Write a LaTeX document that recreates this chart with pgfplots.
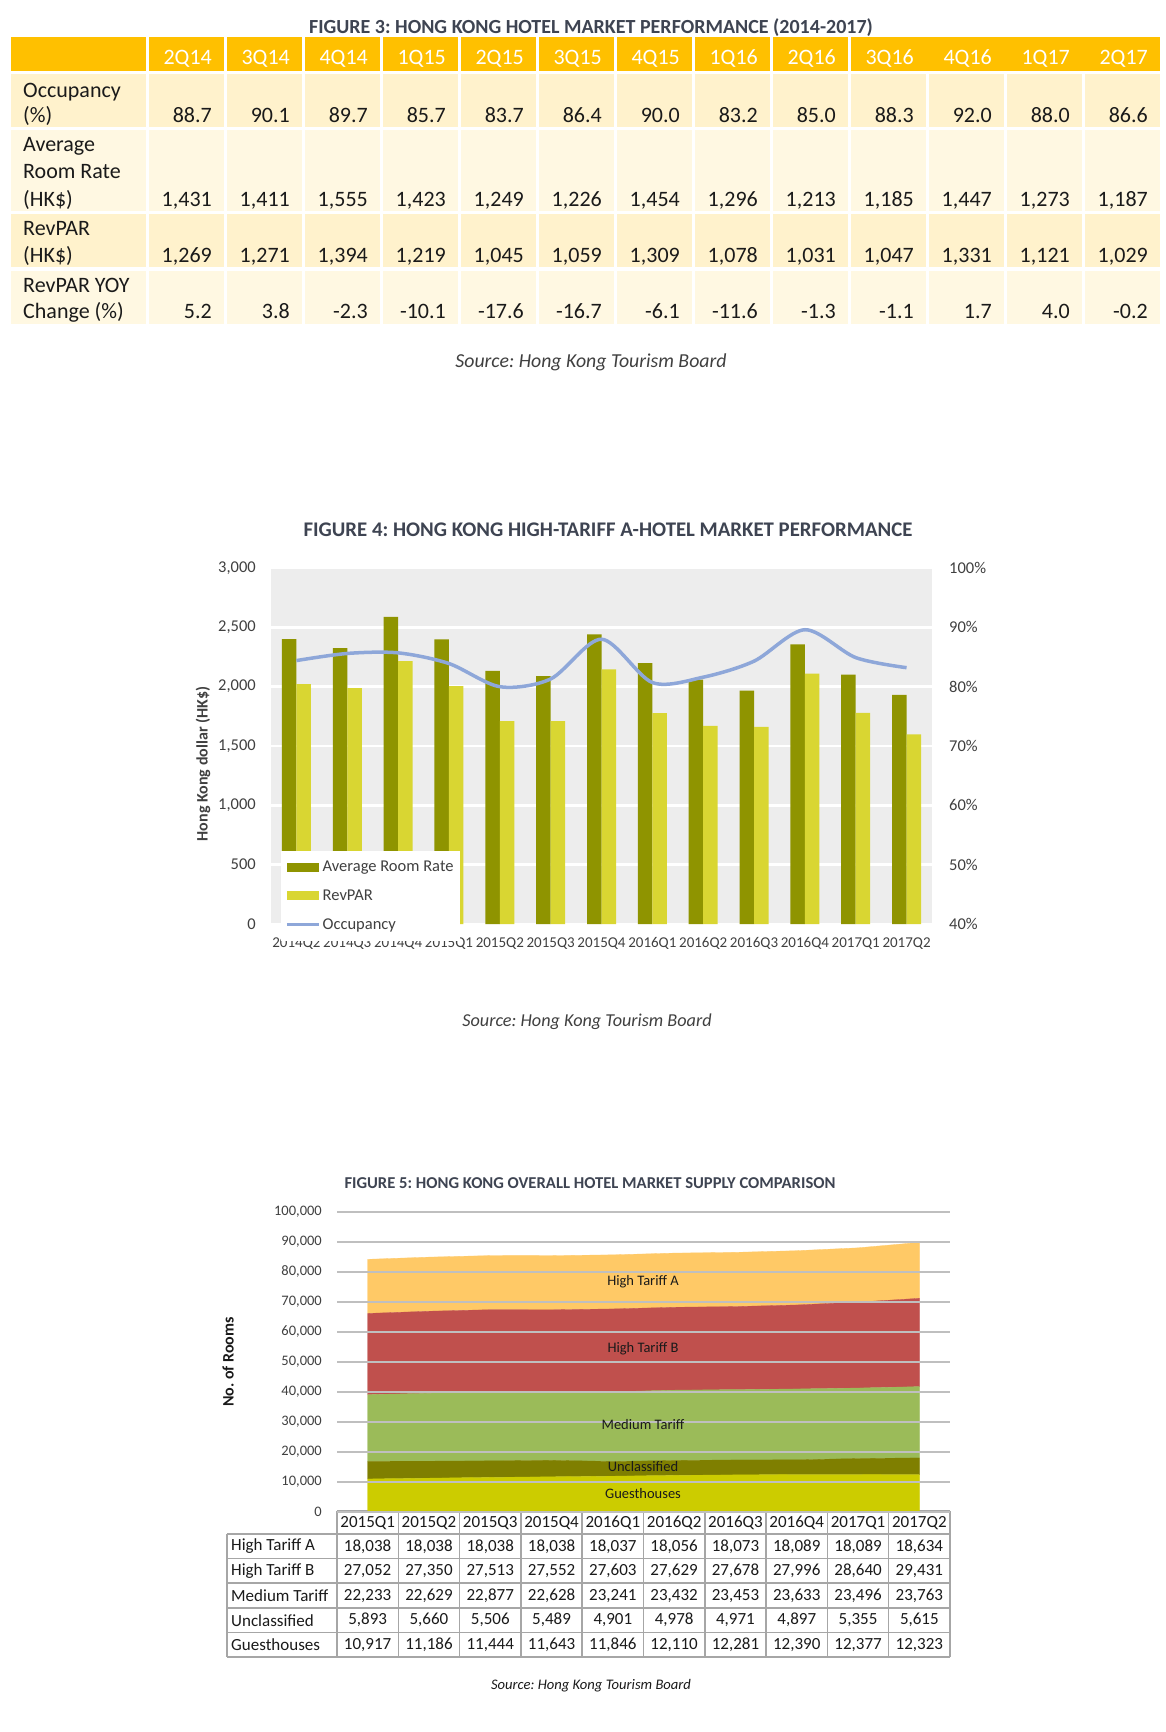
\documentclass[border=0pt]{standalone}
\usepackage{fontspec}
\setmainfont{Carlito}
\usepackage{pgfplots}
\pgfplotsset{compat=1.18}

\definecolor{hdr}{HTML}{FFC000}
\definecolor{rowA}{HTML}{FFF2CC}
\definecolor{rowB}{HTML}{FFF8E2}
\definecolor{ttl}{HTML}{3E4452}
\definecolor{txt}{HTML}{1A1A1A}
\definecolor{tick}{HTML}{404040}
\definecolor{arr}{HTML}{8F9400}
\definecolor{rvp}{HTML}{D9D632}
\definecolor{occ}{HTML}{8EA7D9}
\definecolor{bgf}{HTML}{EDEDED}
\definecolor{hta}{HTML}{FFC966}
\definecolor{htb}{HTML}{C0504D}
\definecolor{med}{HTML}{9BBB59}
\definecolor{unc}{HTML}{7F7F00}
\definecolor{gst}{HTML}{CCCC00}
\definecolor{grd}{HTML}{BFBFBF}
\definecolor{tbl}{HTML}{A6A6A6}

\newcommand{\fs}[2]{\fontsize{#1}{#2}\selectfont}
\frenchspacing

\begin{document}
\frenchspacing
\begin{tikzpicture}
\begin{scope}[x=1pt,y=-1pt]
\path[use as bounding box] (0,0) rectangle (1166,1732);
\fill[white] (0,0) rectangle (1166,1732);

% ---------------- FIGURE 3 table ----------------
\node[anchor=base, inner sep=0, font=\bfseries\fs{20}{24}, text=ttl] at (591,33) {FIGURE 3: HONG KONG HOTEL MARKET PERFORMANCE (2014-2017)};
\fill[hdr] (11,37) rectangle (1160,71);
\fill[white] (146,37) rectangle (149,71);
\foreach \i in {1,...,9} {\fill[white] ({146+78*\i},37) rectangle ({149+78*\i},71);}
\foreach \l [count=\i from 0] in {2Q14,3Q14,4Q14,1Q15,2Q15,3Q15,4Q15,1Q16,2Q16,3Q16,4Q16,1Q17,2Q17}
  {\node[anchor=base east, inner sep=0, text=white, font=\fs{22}{26}] at ({212+78*\i},64) {\l};}
\foreach \t/\b/\c in {74/127/rowA,130/211/rowB,214/267/rowA,271/324/rowB} {
  \fill[\c] (11,\t) rectangle (146,\b);
  \foreach \i in {0,...,12} {\fill[\c] ({149+78*\i},\t) rectangle ({224+78*\i},\b);}
}
\begin{scope}[every node/.style={anchor=base west, inner sep=0, text=txt, font=\fs{22}{26}}]
\node at (23,97) {Occupancy};
\node at (23,122) {(\%)};
\node at (23,151) {Average};
\node at (23,178) {Room Rate};
\node at (23,206) {(HK\$)};
\node at (23,235) {RevPAR};
\node at (23,262) {(HK\$)};
\node at (23,292) {RevPAR YOY};
\node at (23,318) {Change (\%)};
\end{scope}
\begin{scope}[every node/.style={anchor=base east, inner sep=0, text=txt, font=\fs{22}{26}}]
\foreach \v [count=\i from 0] in {88.7,90.1,89.7,85.7,83.7,86.4,90.0,83.2,85.0,88.3,92.0,88.0,86.6}
  {\node at ({212+78*\i},122) {\v};}
\foreach \v [count=\i from 0] in {{1,431},{1,411},{1,555},{1,423},{1,249},{1,226},{1,454},{1,296},{1,213},{1,185},{1,447},{1,273},{1,187}}
  {\node at ({212+78*\i},206) {\v};}
\foreach \v [count=\i from 0] in {{1,269},{1,271},{1,394},{1,219},{1,045},{1,059},{1,309},{1,078},{1,031},{1,047},{1,331},{1,121},{1,029}}
  {\node at ({212+78*\i},262) {\v};}
\foreach \v [count=\i from 0] in {5.2,3.8,-2.3,-10.1,-17.6,-16.7,-6.1,-11.6,-1.3,-1.1,1.7,4.0,-0.2}
  {\node at ({212+78*\i},318) {\v};}
\end{scope}
\node[anchor=base, inner sep=0, font=\itshape\fs{19.8}{23}, text=tick] at (591,367) {Source: Hong Kong Tourism Board};

% ---------------- FIGURE 4 texts ----------------
\node[anchor=base, inner sep=0, font=\bfseries\fs{20.8}{25}, text=ttl] at (608,536) {FIGURE 4: HONG KONG HIGH-TARIFF A-HOTEL MARKET PERFORMANCE};
\node[rotate=90, inner sep=0, font=\bfseries\fs{16}{19}, text=tick] at (203,764) {Hong Kong dollar (HK\$)};
\node[anchor=base, inner sep=0, font=\itshape\fs{18.2}{22}, text=tick] at (587,1026) {Source: Hong Kong Tourism Board};

% ---------------- FIGURE 5 texts and table ----------------
\node[anchor=base, inner sep=0, font=\bfseries\fs{16.6}{20}, text=ttl] at (590,1188) {FIGURE 5: HONG KONG OVERALL HOTEL MARKET SUPPLY COMPARISON};
\node[rotate=90, inner sep=0, font=\bfseries\fs{16}{19}, text=txt] at (228,1362) {No. of Rooms};
\begin{scope}[line width=1.5pt]
\draw[tbl] (337,1511) -- (950,1511);
\foreach \y in {1534,1558.6,1583.2,1607.8,1632.4,1657} {\draw[tbl] (227,\y) -- (950,\y);}
\draw[tbl] (227,1534) -- (227,1657);
\foreach \i in {0,...,10} {\draw[tbl] ({337+61.3*\i},1511) -- ({337+61.3*\i},1657);}
\end{scope}
\begin{scope}[every node/.style={anchor=center, inner sep=0, text=txt, font=\fs{17}{20}}]
\foreach \l [count=\i from 0] in {2015Q1,2015Q2,2015Q3,2015Q4,2016Q1,2016Q2,2016Q3,2016Q4,2017Q1,2017Q2}
  {\node at ({367.65+61.3*\i},1522.7) {\l};}
\foreach \v [count=\i from 0] in {{18,038},{18,038},{18,038},{18,038},{18,037},{18,056},{18,073},{18,089},{18,089},{18,634}}
  {\node at ({367.65+61.3*\i},1546.5) {\v};}
\foreach \v [count=\i from 0] in {{27,052},{27,350},{27,513},{27,552},{27,603},{27,629},{27,678},{27,996},{28,640},{29,431}}
  {\node at ({367.65+61.3*\i},1571) {\v};}
\foreach \v [count=\i from 0] in {{22,233},{22,629},{22,877},{22,628},{23,241},{23,432},{23,453},{23,633},{23,496},{23,763}}
  {\node at ({367.65+61.3*\i},1595.6) {\v};}
\foreach \v [count=\i from 0] in {{5,893},{5,660},{5,506},{5,489},{4,901},{4,978},{4,971},{4,897},{5,355},{5,615}}
  {\node at ({367.65+61.3*\i},1620.2) {\v};}
\foreach \v [count=\i from 0] in {{10,917},{11,186},{11,444},{11,643},{11,846},{12,110},{12,281},{12,390},{12,377},{12,323}}
  {\node at ({367.65+61.3*\i},1644.8) {\v};}
\end{scope}
\begin{scope}[every node/.style={anchor=west, inner sep=0, text=txt, font=\fs{17}{20}}]
\node at (231,1546.5) {High Tariff A};
\node at (231,1571) {High Tariff B};
\node at (231,1595.6) {Medium Tariff};
\node at (231,1620.2) {Unclassified};
\node at (231,1644.8) {Guesthouses};
\end{scope}
\node[anchor=center, inner sep=0, font=\itshape\fs{14.6}{17}, text=txt] at (591,1686) {Source: Hong Kong Tourism Board};
\end{scope}

% ---------------- FIGURE 4 bars ----------------
\begin{axis}[
  at={(271pt,-924pt)}, anchor=south west, scale only axis,
  width=661pt, height=356pt,
  xmin=-0.5, xmax=12.5, ymin=0, ymax=3000,
  ytick={0,500,...,3000},
  xtick={0,...,12},
  xticklabels={2014Q2,2014Q3,2014Q4,2015Q1,2015Q2,2015Q3,2015Q4,2016Q1,2016Q2,2016Q3,2016Q4,2017Q1,2017Q2},
  axis line style={draw=none}, major tick length=0pt,
  ymajorgrids, grid style={white, line width=2.5pt},
  axis background/.style={fill=bgf},
  ybar=0pt, bar width=14.5pt,
  /pgf/number format/assume math mode=true,
  /pgf/number format/fixed, /pgf/number format/precision=0,
  /pgf/number format/1000 sep={,},
  yticklabel style={anchor=east, inner sep=0pt, xshift=-15pt, font=\fs{16.5}{20}, text=tick},
  xticklabel style={anchor=base, inner sep=0pt, yshift=-23pt, font=\fs{15}{18}, text=tick},
  legend cell align=left,
  legend style={at={(0.0151,0.205)}, anchor=north west, draw=none, fill=white,
    font=\fs{16.5}{20}, text=tick, inner xsep=4pt, inner ysep=8pt, row sep=12.5pt,
    nodes={inner sep=2pt}},
]
\addplot[fill=arr, draw=none, legend image code/.code={\fill[arr] (0pt,-4.5pt) rectangle (32pt,4.5pt);}]
  coordinates {(0,2400) (1,2325) (2,2589) (3,2398) (4,2134) (5,2089) (6,2440) (7,2198) (8,2060) (9,1967) (10,2357) (11,2102) (12,1930)};
\addlegendentry{Average Room Rate}
\addplot[fill=rvp, draw=none, legend image code/.code={\fill[rvp] (0pt,-4.5pt) rectangle (32pt,4.5pt);}]
  coordinates {(0,2022) (1,1988) (2,2216) (3,2005) (4,1710) (5,1710) (6,2145) (7,1778) (8,1669) (9,1661) (10,2111) (11,1780) (12,1599)};
\addlegendentry{RevPAR}
\addlegendimage{legend image code/.code={\draw[occ, line width=3.5pt] (0pt,0pt) -- (32pt,0pt);}}
\addlegendentry{Occupancy}
\end{axis}

% ---------------- FIGURE 4 occupancy ----------------
\begin{axis}[
  at={(271pt,-924pt)}, anchor=south west, scale only axis,
  width=661pt, height=356pt,
  xmin=-0.5, xmax=12.5, ymin=40, ymax=100,
  ytick={40,50,60,70,80,90,100},
  axis y line*=right, hide x axis,
  axis line style={draw=none}, major tick length=0pt,
  /pgf/number format/assume math mode=true,
  /pgf/number format/fixed, /pgf/number format/precision=0,
  yticklabel={\pgfmathprintnumber{\tick}\%},
  yticklabel style={anchor=west, inner sep=0pt, xshift=17pt, font=\fs{16.5}{20}, text=tick},
]
\addplot[smooth, occ, line width=3.5pt] coordinates {(0,84.4) (1,85.6) (2,85.7) (3,83.9) (4,80.0) (5,81.3) (6,88.0) (7,80.7) (8,81.6) (9,84.3) (10,89.6) (11,84.9) (12,83.2)};
\end{axis}

% ---------------- FIGURE 5 areas ----------------
\begin{axis}[
  at={(337pt,-1511.7pt)}, anchor=south west, scale only axis,
  width=613pt, height=300pt,
  xmin=-0.5, xmax=9.5, ymin=0, ymax=100000,
  ytick={0,10000,20000,30000,40000,50000,60000,70000,80000,90000,100000},
  xtick=\empty, scaled y ticks=false,
  axis line style={draw=none}, major tick length=0pt,
  ymajorgrids, grid style={grd, line width=2pt},
  stack plots=y, area style,
  /pgf/number format/assume math mode=true,
  /pgf/number format/fixed, /pgf/number format/precision=0,
  /pgf/number format/1000 sep={,},
  yticklabel style={anchor=east, inner sep=0pt, xshift=-15pt, font=\fs{14.5}{17}, text=tick},
]
\addplot[fill=gst, draw=gst, line width=0.3pt] coordinates {(0,10917) (1,11186) (2,11444) (3,11643) (4,11846) (5,12110) (6,12281) (7,12390) (8,12377) (9,12323)} \closedcycle;
\addplot[fill=unc, draw=unc, line width=0.3pt] coordinates {(0,5893) (1,5660) (2,5506) (3,5489) (4,4901) (5,4978) (6,4971) (7,4897) (8,5355) (9,5615)} \closedcycle;
\addplot[fill=med, draw=med, line width=0.3pt] coordinates {(0,22233) (1,22629) (2,22877) (3,22628) (4,23241) (5,23432) (6,23453) (7,23633) (8,23496) (9,23763)} \closedcycle;
\addplot[fill=htb, draw=htb, line width=0.3pt] coordinates {(0,27052) (1,27350) (2,27513) (3,27552) (4,27603) (5,27629) (6,27678) (7,27996) (8,28640) (9,29431)} \closedcycle;
\addplot[fill=hta, draw=hta, line width=0.3pt] coordinates {(0,18038) (1,18038) (2,18038) (3,18038) (4,18037) (5,18056) (6,18073) (7,18089) (8,18089) (9,18634)} \closedcycle;
\end{axis}

\begin{scope}[x=1pt,y=-1pt, every node/.style={anchor=center, inner sep=0, text=txt, font=\fs{14.5}{17}}]
\node at (643,1282) {High Tariff A};
\node at (643,1349) {High Tariff B};
\node at (643,1425) {Medium Tariff};
\node at (643,1467) {Unclassified};
\node at (643,1493) {Guesthouses};
\end{scope}
\end{tikzpicture}
\end{document}
